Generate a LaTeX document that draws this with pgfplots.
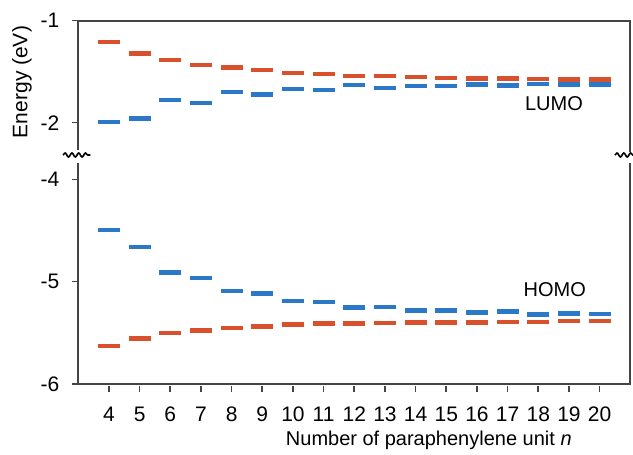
\documentclass[border=0pt]{standalone}
\usepackage{pgfplots}
\pgfplotsset{compat=1.18}
\usepackage{fontspec}
\setmainfont{Liberation Sans}
\usetikzlibrary{decorations.pathmorphing}
\definecolor{cblue}{HTML}{2B78C8}
\definecolor{corange}{HTML}{D9512C}
\definecolor{axgray}{HTML}{444444}

\pgfplotstableread{
n  up    ub
4  -1.206 -1.996
5  -1.320 -1.960
6  -1.385 -1.780
7  -1.434 -1.807
8  -1.460 -1.700
9  -1.486 -1.725
10 -1.510 -1.667
11 -1.524 -1.680
12 -1.540 -1.633
13 -1.540 -1.657
14 -1.550 -1.640
15 -1.560 -1.640
16 -1.565 -1.627
17 -1.565 -1.637
18 -1.570 -1.620
19 -1.578 -1.627
20 -1.578 -1.627
}\lumo

\pgfplotstableread{
n  hb     ho
4  -4.497 -5.630
5  -4.660 -5.554
6  -4.910 -5.500
7  -4.964 -5.477
8  -5.090 -5.450
9  -5.116 -5.438
10 -5.190 -5.420
11 -5.200 -5.410
12 -5.254 -5.410
13 -5.250 -5.406
14 -5.280 -5.400
15 -5.280 -5.400
16 -5.300 -5.400
17 -5.293 -5.393
18 -5.320 -5.393
19 -5.310 -5.387
20 -5.315 -5.387
}\homo

\begin{document}
\fontsize{10}{12}\selectfont
\begin{tikzpicture}
\useasboundingbox (-39.15pt,-35.5pt) rectangle (277.35pt,192pt);
\pgfplotsset{
  common/.style={
    scale only axis, width=276pt, xmin=3, xmax=21,
    axis line style={draw=none},
    clip=false,
    tick align=outside, major tick length=3pt,
    tick style={axgray, line width=0.8pt},
    ytick pos=left,
    /pgf/number format/assume math mode=true,
    ticklabel style={font=\fontsize{10.5}{12}\selectfont},
    yticklabel style={xshift=-3pt},
  },
  dash/.style={only marks, mark=-, mark size=5.5pt, mark options={line width=2.2pt}},
}
% lower panel
\begin{axis}[common, name=lo, at={(0pt,0pt)}, anchor=south west,
  height=110.5pt, ymin=-6, ymax=-3.84,
  ytick={-4,-5,-6}, yticklabels={-4,-5,-6},
  xtick={4,...,20}, xtick pos=bottom,
  xtick style={yshift=-1pt},
  xticklabel style={yshift=-5pt},
  xlabel={Number of paraphenylene unit \textit{n}},
  xlabel style={at={(axis description cs:0.635,0)}, anchor=center, yshift=-28pt, font=\fontsize{10}{12}\selectfont},
]
\addplot[dash, cblue] table[x=n, y=hb] {\homo};
\addplot[dash, corange] table[x=n, y=ho] {\homo};
\node[font=\fontsize{10}{12}\selectfont] at (axis cs:18.54,-5.082) {HOMO};
\end{axis}
% upper panel
\begin{axis}[common, name=up, at={(0pt,118pt)}, anchor=south west,
  height=63.65pt, ymin=-2.248, ymax=-1,
  ytick={-1,-2}, yticklabels={-1,-2},
  xtick=\empty,
]
\addplot[dash, corange] table[x=n, y=up] {\lumo};
\addplot[dash, cblue] table[x=n, y=ub] {\lumo};
\node[font=\fontsize{10}{12}\selectfont] at (axis cs:18.51,-1.817) {LUMO};
\end{axis}
\draw[axgray, line width=0.9pt] (lo.north west) -- (lo.south west) -- (lo.south east) -- (lo.north east);
\draw[axgray, line width=0.9pt] ([yshift=-1pt]up.south west) -- (up.north west) -- (up.north east) -- ([yshift=-2pt]up.south east);
\node[rotate=90, font=\fontsize{10.5}{12}\selectfont] at (-28.15pt,151pt) {Energy (eV)};
\draw[line width=0.8pt, decorate, decoration={snake, amplitude=1pt, segment length=3.4pt}] (-7.65pt,114.5pt) -- (6pt,114.5pt);
\draw[line width=0.8pt, decorate, decoration={snake, amplitude=1pt, segment length=3.4pt}] (268.3pt,114.5pt) -- (277.3pt,114.5pt);
\end{tikzpicture}
\end{document}
